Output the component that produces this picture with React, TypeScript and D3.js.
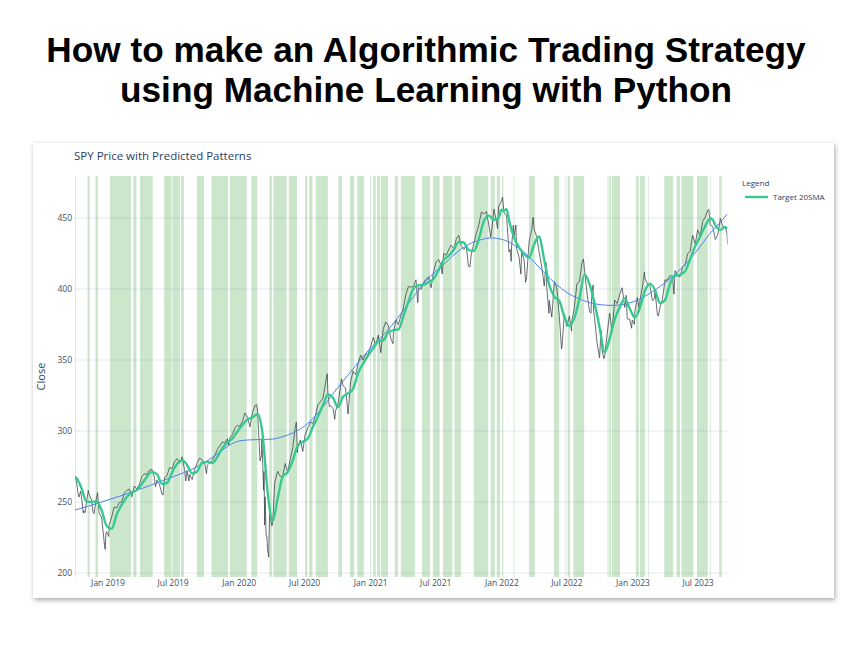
import React from "react";
import * as d3 from "d3";

type P = [string, number];

// ---- SPY adjusted close (weekly + key days) ----
const close2018: P[] = [
  ["2018-10-01", 268.1], ["2018-10-05", 264.5], ["2018-10-10", 255.5], ["2018-10-12", 253.5],
  ["2018-10-17", 257.7], ["2018-10-19", 253.9], ["2018-10-24", 242.2], ["2018-10-26", 243.8],
  ["2018-10-29", 242.5], ["2018-11-02", 249.9], ["2018-11-07", 258.2], ["2018-11-09", 255.3],
  ["2018-11-16", 251.5], ["2018-11-20", 243.1], ["2018-11-23", 241.9], ["2018-11-30", 253.3],
  ["2018-12-03", 256.6], ["2018-12-07", 242.2], ["2018-12-14", 239.4], ["2018-12-21", 222.5],
  ["2018-12-24", 216.6], ["2018-12-26", 227.6], ["2018-12-28", 229.1],
];
const close2019: P[] = [
  ["2019-01-03", 225.7], ["2019-01-04", 233.3], ["2019-01-11", 239.4], ["2019-01-18", 246.4],
  ["2019-01-25", 245.9], ["2019-02-01", 249.6], ["2019-02-08", 250.0], ["2019-02-15", 256.4],
  ["2019-02-22", 258.0], ["2019-03-01", 259.2], ["2019-03-08", 253.7], ["2019-03-15", 261.2],
  ["2019-03-22", 259.3], ["2019-03-29", 262.3], ["2019-04-05", 267.9], ["2019-04-12", 269.9],
  ["2019-04-18", 269.3], ["2019-04-26", 272.4], ["2019-05-03", 273.0], ["2019-05-10", 267.5],
  ["2019-05-13", 260.8], ["2019-05-17", 265.4], ["2019-05-24", 262.5], ["2019-05-31", 255.6],
  ["2019-06-03", 254.9], ["2019-06-07", 267.1], ["2019-06-14", 268.5], ["2019-06-21", 274.3],
  ["2019-06-28", 273.4], ["2019-07-05", 278.5], ["2019-07-12", 280.5], ["2019-07-19", 277.3],
  ["2019-07-26", 281.8], ["2019-08-02", 273.0], ["2019-08-05", 264.8], ["2019-08-09", 272.1],
  ["2019-08-14", 264.9], ["2019-08-16", 269.5], ["2019-08-23", 265.8], ["2019-08-30", 272.9],
  ["2019-09-06", 277.8], ["2019-09-13", 280.9], ["2019-09-20", 279.6], ["2019-09-27", 276.9],
  ["2019-10-02", 270.0], ["2019-10-04", 275.9], ["2019-10-11", 277.7], ["2019-10-18", 279.3],
  ["2019-10-25", 282.7], ["2019-11-01", 286.9], ["2019-11-08", 289.6], ["2019-11-15", 292.2],
  ["2019-11-22", 291.5], ["2019-11-29", 294.6], ["2019-12-03", 290.1], ["2019-12-06", 295.1],
  ["2019-12-13", 297.4], ["2019-12-20", 302.1], ["2019-12-27", 304.1], ["2019-12-31", 303.2],
];
const close2020: P[] = [
  ["2020-01-03", 303.7], ["2020-01-10", 306.8], ["2020-01-17", 312.7], ["2020-01-24", 309.7],
  ["2020-01-31", 303.0], ["2020-02-07", 312.9], ["2020-02-14", 318.0], ["2020-02-19", 318.6],
  ["2020-02-21", 314.1], ["2020-02-25", 294.5], ["2020-02-28", 279.0], ["2020-03-03", 282.8],
  ["2020-03-04", 294.7], ["2020-03-06", 280.2], ["2020-03-09", 258.3], ["2020-03-10", 271.6],
  ["2020-03-12", 233.7], ["2020-03-13", 253.7], ["2020-03-16", 225.9], ["2020-03-18", 226.1],
  ["2020-03-20", 216.8], ["2020-03-23", 211.2], ["2020-03-26", 247.5], ["2020-03-27", 240.1],
  ["2020-04-01", 233.2], ["2020-04-03", 235.2], ["2020-04-09", 263.6], ["2020-04-17", 271.6],
  ["2020-04-24", 268.1], ["2020-05-01", 267.9], ["2020-05-08", 277.1], ["2020-05-15", 271.3],
  ["2020-05-22", 279.9], ["2020-05-29", 288.3], ["2020-06-05", 302.6], ["2020-06-08", 306.2],
  ["2020-06-11", 284.8], ["2020-06-12", 288.2], ["2020-06-19", 293.7], ["2020-06-26", 285.6],
  ["2020-07-02", 297.1], ["2020-07-10", 302.3], ["2020-07-17", 306.2], ["2020-07-24", 305.4],
  ["2020-07-31", 310.7], ["2020-08-07", 318.4], ["2020-08-14", 320.6], ["2020-08-21", 323.1],
  ["2020-08-28", 333.6], ["2020-09-02", 340.4], ["2020-09-04", 326.0], ["2020-09-08", 317.1],
  ["2020-09-11", 317.9], ["2020-09-18", 316.0], ["2020-09-23", 308.3], ["2020-09-25", 314.1],
  ["2020-10-02", 319.0], ["2020-10-09", 331.5], ["2020-10-12", 336.8], ["2020-10-16", 331.9],
  ["2020-10-23", 330.4], ["2020-10-30", 312.0], ["2020-11-06", 334.6], ["2020-11-13", 342.2],
  ["2020-11-20", 339.6], ["2020-11-27", 347.5], ["2020-12-04", 353.4], ["2020-12-11", 350.0],
  ["2020-12-18", 354.3], ["2020-12-24", 354.1], ["2020-12-31", 358.8],
];
const close2021: P[] = [
  ["2021-01-08", 365.9], ["2021-01-15", 360.6], ["2021-01-22", 367.5], ["2021-01-27", 359.3],
  ["2021-01-29", 355.2], ["2021-02-05", 372.1], ["2021-02-12", 376.8], ["2021-02-19", 374.3],
  ["2021-02-26", 365.0], ["2021-03-04", 361.5], ["2021-03-05", 368.2], ["2021-03-12", 378.2],
  ["2021-03-19", 375.0], ["2021-03-26", 381.3], ["2021-04-01", 385.7], ["2021-04-09", 396.2],
  ["2021-04-16", 401.8], ["2021-04-23", 401.3], ["2021-04-30", 401.8], ["2021-05-07", 406.5],
  ["2021-05-12", 390.4], ["2021-05-14", 401.1], ["2021-05-21", 399.5], ["2021-05-28", 404.5],
  ["2021-06-04", 406.9], ["2021-06-11", 408.6], ["2021-06-18", 400.9], ["2021-06-25", 412.2],
  ["2021-07-02", 419.1], ["2021-07-09", 420.8], ["2021-07-16", 416.8], ["2021-07-19", 410.6],
  ["2021-07-23", 425.1], ["2021-07-30", 423.7], ["2021-08-06", 427.6], ["2021-08-13", 430.9],
  ["2021-08-20", 428.4], ["2021-08-27", 435.1], ["2021-09-03", 437.8], ["2021-09-10", 430.4],
  ["2021-09-17", 427.9], ["2021-09-24", 430.3], ["2021-09-30", 416.0], ["2021-10-04", 415.5],
  ["2021-10-08", 424.5], ["2021-10-15", 432.2], ["2021-10-22", 439.3], ["2021-10-29", 445.2],
  ["2021-11-05", 454.2], ["2021-11-12", 453.0], ["2021-11-19", 454.5], ["2021-11-26", 444.9],
  ["2021-12-01", 436.7], ["2021-12-03", 439.5], ["2021-12-10", 456.3], ["2021-12-17", 447.4],
  ["2021-12-20", 442.6], ["2021-12-23", 457.8], ["2021-12-31", 462.0],
];
const close2022: P[] = [
  ["2022-01-03", 464.7], ["2022-01-07", 453.4], ["2022-01-14", 452.1], ["2022-01-21", 426.1],
  ["2022-01-24", 427.8], ["2022-01-27", 419.5], ["2022-01-28", 429.9], ["2022-02-02", 444.9],
  ["2022-02-04", 436.5], ["2022-02-09", 445.1], ["2022-02-11", 428.5], ["2022-02-18", 422.4],
  ["2022-02-23", 410.5], ["2022-02-25", 425.8], ["2022-03-04", 420.4], ["2022-03-08", 404.7],
  ["2022-03-11", 408.6], ["2022-03-18", 433.8], ["2022-03-25", 441.8], ["2022-03-29", 450.4],
  ["2022-04-01", 442.0], ["2022-04-08", 436.8], ["2022-04-14", 427.2], ["2022-04-22", 415.8],
  ["2022-04-29", 402.1], ["2022-05-04", 418.7], ["2022-05-06", 401.4], ["2022-05-12", 382.9],
  ["2022-05-13", 392.0], ["2022-05-20", 380.2], ["2022-05-27", 405.3], ["2022-06-03", 400.6],
  ["2022-06-10", 380.4], ["2022-06-16", 357.8], ["2022-06-17", 358.6], ["2022-06-24", 382.3],
  ["2022-07-01", 373.7], ["2022-07-08", 380.9], ["2022-07-14", 370.4], ["2022-07-15", 377.5],
  ["2022-07-22", 387.2], ["2022-07-29", 403.8], ["2022-08-05", 405.2], ["2022-08-12", 418.6],
  ["2022-08-16", 421.1], ["2022-08-19", 413.7], ["2022-08-26", 397.2], ["2022-09-02", 384.4],
  ["2022-09-06", 383.0], ["2022-09-09", 398.5], ["2022-09-12", 402.8], ["2022-09-13", 385.3],
  ["2022-09-16", 379.5], ["2022-09-23", 362.1], ["2022-09-30", 351.5], ["2022-10-04", 371.1],
  ["2022-10-07", 357.1], ["2022-10-12", 350.9], ["2022-10-14", 352.0], ["2022-10-21", 368.4],
  ["2022-10-28", 382.9], ["2022-11-04", 370.4], ["2022-11-10", 388.5], ["2022-11-11", 392.2],
  ["2022-11-18", 389.8], ["2022-11-25", 396.0], ["2022-12-01", 400.9], ["2022-12-02", 400.5],
  ["2022-12-09", 387.1], ["2022-12-13", 395.6], ["2022-12-16", 379.0], ["2022-12-23", 378.6],
  ["2022-12-28", 372.4], ["2022-12-30", 378.1],
];
const close2023: P[] = [
  ["2023-01-05", 375.1], ["2023-01-06", 383.7], ["2023-01-13", 394.0], ["2023-01-19", 384.3],
  ["2023-01-20", 391.4], ["2023-01-27", 401.1], ["2023-02-02", 412.1], ["2023-02-03", 407.7],
  ["2023-02-10", 403.5], ["2023-02-17", 402.7], ["2023-02-24", 391.9], ["2023-03-02", 393.4],
  ["2023-03-03", 399.7], ["2023-03-10", 381.6], ["2023-03-13", 381.0], ["2023-03-17", 387.1],
  ["2023-03-24", 392.8], ["2023-03-31", 406.4], ["2023-04-06", 406.2], ["2023-04-14", 409.4],
  ["2023-04-21", 409.1], ["2023-04-25", 396.4], ["2023-04-28", 412.9], ["2023-05-05", 409.6],
  ["2023-05-12", 408.5], ["2023-05-19", 415.5], ["2023-05-26", 416.9], ["2023-06-02", 424.7],
  ["2023-06-09", 426.7], ["2023-06-16", 437.9], ["2023-06-23", 431.6], ["2023-06-30", 441.7],
  ["2023-07-07", 437.0], ["2023-07-14", 447.7], ["2023-07-21", 450.6], ["2023-07-28", 455.3],
  ["2023-07-31", 456.1], ["2023-08-04", 445.2], ["2023-08-11", 444.0], ["2023-08-18", 434.9],
  ["2023-08-25", 438.4], ["2023-09-01", 449.6], ["2023-09-08", 443.9], ["2023-09-15", 443.4],
  ["2023-09-20", 438.6], ["2023-09-21", 431.4],
];

// ---- Target 20SMA ----
const sma2018: P[] = [
  ["2018-10-01", 267.5], ["2018-10-05", 266.8], ["2018-10-19", 259.8], ["2018-11-02", 250.3],
  ["2018-11-16", 250.1], ["2018-11-30", 250.5], ["2018-12-14", 244.2], ["2018-12-28", 233.3],
];
const sma2019: P[] = [
  ["2019-01-11", 231.1], ["2019-01-25", 241.3], ["2019-02-08", 248.0], ["2019-02-22", 253.5],
  ["2019-03-08", 256.8], ["2019-03-22", 258.4], ["2019-04-05", 262.7], ["2019-04-18", 267.4],
  ["2019-05-03", 271.2], ["2019-05-17", 269.6], ["2019-05-31", 262.8], ["2019-06-14", 263.4],
  ["2019-06-28", 270.8], ["2019-07-12", 276.7], ["2019-07-26", 279.5], ["2019-08-09", 276.1],
  ["2019-08-23", 270.1], ["2019-09-06", 271.5], ["2019-09-20", 277.8], ["2019-10-04", 278.3],
  ["2019-10-18", 277.5], ["2019-11-01", 281.7], ["2019-11-15", 287.9], ["2019-11-29", 292.0],
  ["2019-12-13", 294.7], ["2019-12-27", 299.7],
];
const sma2020: P[] = [
  ["2020-01-10", 304.2], ["2020-01-24", 308.2], ["2020-02-07", 309.6], ["2020-02-21", 312.0],
  ["2020-03-06", 297.8], ["2020-03-20", 257.4], ["2020-04-03", 236.5], ["2020-04-17", 252.6],
  ["2020-05-01", 267.8], ["2020-05-15", 271.1], ["2020-05-29", 279.2], ["2020-06-12", 289.8],
  ["2020-06-26", 292.5], ["2020-07-10", 294.7], ["2020-07-24", 302.8], ["2020-08-07", 310.2],
  ["2020-08-21", 318.2], ["2020-09-04", 325.8], ["2020-09-18", 323.4], ["2020-10-02", 316.8],
  ["2020-10-16", 324.1], ["2020-10-30", 326.5], ["2020-11-13", 329.8], ["2020-11-27", 341.0],
  ["2020-12-11", 347.6], ["2020-12-24", 353.0],
];
const sma2021: P[] = [
  ["2021-01-08", 358.3], ["2021-01-22", 363.2], ["2021-02-05", 363.9], ["2021-02-19", 369.6],
  ["2021-03-05", 371.1], ["2021-03-19", 371.6], ["2021-04-01", 380.1], ["2021-04-16", 391.3],
  ["2021-04-30", 400.3], ["2021-05-14", 402.7], ["2021-05-28", 402.9], ["2021-06-11", 404.9],
  ["2021-06-25", 407.2], ["2021-07-09", 413.3], ["2021-07-23", 420.5], ["2021-08-06", 423.3],
  ["2021-08-20", 427.7], ["2021-09-03", 433.1], ["2021-09-17", 432.8], ["2021-10-01", 427.4],
  ["2021-10-15", 427.0], ["2021-10-29", 435.3], ["2021-11-12", 447.9], ["2021-11-26", 451.7],
  ["2021-12-10", 448.8], ["2021-12-23", 450.3], ["2021-12-31", 455.9],
];
const sma2022: P[] = [
  ["2022-01-07", 455.2], ["2022-01-14", 456.3], ["2022-01-21", 448.4], ["2022-02-04", 436.2],
  ["2022-02-18", 429.3], ["2022-03-04", 424.3], ["2022-03-18", 422.2], ["2022-04-01", 431.6],
  ["2022-04-14", 437.0], ["2022-04-29", 420.5], ["2022-05-13", 402.8], ["2022-05-27", 394.7],
  ["2022-06-10", 391.6], ["2022-06-24", 380.5], ["2022-07-08", 373.9], ["2022-07-22", 379.8],
  ["2022-08-05", 393.4], ["2022-08-19", 410.3], ["2022-09-02", 403.5], ["2022-09-16", 389.9],
  ["2022-09-30", 372.9], ["2022-10-14", 355.7], ["2022-10-28", 365.1], ["2022-11-11", 378.5],
  ["2022-11-25", 387.1], ["2022-12-09", 393.4], ["2022-12-23", 386.3],
];
const sma2023: P[] = [
  ["2023-01-06", 379.9], ["2023-01-20", 386.8], ["2023-02-03", 398.6], ["2023-02-17", 403.8],
  ["2023-03-03", 399.5], ["2023-03-17", 390.1], ["2023-03-31", 392.0], ["2023-04-14", 403.7],
  ["2023-04-28", 409.4], ["2023-05-12", 410.0], ["2023-05-26", 412.6], ["2023-06-09", 420.9],
  ["2023-06-23", 430.2], ["2023-07-07", 437.1], ["2023-07-21", 444.3], ["2023-07-28", 447.7],
  ["2023-08-04", 449.7], ["2023-08-11", 448.8], ["2023-08-18", 444.9], ["2023-09-01", 441.7],
  ["2023-09-15", 443.8], ["2023-09-21", 442.5],
];

// ---- smooth trend (blue) ----
const trendPoints: P[] = [
  ["2018-10-01", 244.4], ["2018-11-01", 246.6], ["2018-12-01", 249.0], ["2019-01-01", 251.5],
  ["2019-02-01", 254.0], ["2019-03-01", 256.5], ["2019-04-01", 259.2], ["2019-05-01", 262.0],
  ["2019-06-01", 265.0], ["2019-07-01", 267.8], ["2019-08-01", 270.8], ["2019-09-01", 274.2],
  ["2019-10-01", 278.5], ["2019-11-01", 284.0], ["2019-12-01", 289.5], ["2020-01-01", 293.0],
  ["2020-02-01", 293.8], ["2020-03-01", 294.0], ["2020-04-01", 294.3], ["2020-05-01", 296.0],
  ["2020-06-01", 299.0], ["2020-07-01", 303.5], ["2020-08-01", 311.0], ["2020-09-01", 320.5],
  ["2020-10-01", 330.5], ["2020-11-01", 340.0], ["2020-12-01", 349.5], ["2021-01-01", 358.5],
  ["2021-02-01", 366.5], ["2021-03-01", 374.5], ["2021-04-01", 384.5], ["2021-05-01", 395.0],
  ["2021-06-01", 405.0], ["2021-07-01", 412.5], ["2021-08-01", 419.5], ["2021-09-01", 426.5],
  ["2021-10-01", 431.5], ["2021-11-01", 434.5], ["2021-12-01", 436.0], ["2022-01-01", 435.0],
  ["2022-02-01", 431.5], ["2022-03-01", 426.5], ["2022-04-01", 419.0], ["2022-05-01", 411.0],
  ["2022-06-01", 403.5], ["2022-07-01", 397.5], ["2022-08-01", 393.5], ["2022-09-01", 390.5],
  ["2022-10-01", 389.0], ["2022-11-01", 388.5], ["2022-12-01", 389.0], ["2023-01-01", 391.0],
  ["2023-02-01", 394.5], ["2023-03-01", 399.0], ["2023-04-01", 404.5], ["2023-05-01", 411.0],
  ["2023-06-01", 419.0], ["2023-07-01", 428.0], ["2023-08-01", 438.5], ["2023-09-01", 447.0],
  ["2023-09-21", 453.0],
];

// ---- predicted pattern periods (shaded) ----
const bandRanges: [string, string][] = [
  ["2018-10-01", "2018-10-03"], ["2018-11-05", "2018-11-11"], ["2018-11-27", "2018-12-04"],
  ["2019-01-06", "2019-03-06"], ["2019-03-12", "2019-03-21"], ["2019-03-31", "2019-05-05"],
  ["2019-06-06", "2019-06-27"], ["2019-06-29", "2019-07-20"], ["2019-07-23", "2019-07-31"],
  ["2019-09-05", "2019-09-25"], ["2019-10-16", "2019-12-01"], ["2019-12-06", "2020-01-22"],
  ["2020-02-04", "2020-02-20"], ["2020-03-25", "2020-04-01"], ["2020-04-05", "2020-05-12"],
  ["2020-05-18", "2020-06-10"], ["2020-07-02", "2020-07-08"], ["2020-07-14", "2020-07-23"],
  ["2020-08-01", "2020-09-04"], ["2020-10-03", "2020-10-13"], ["2020-11-04", "2020-11-16"],
  ["2020-11-25", "2020-12-13"], ["2020-12-31", "2021-01-02"], ["2021-01-08", "2021-01-15"],
  ["2021-01-19", "2021-01-27"], ["2021-01-29", "2021-02-18"], ["2021-03-09", "2021-03-18"],
  ["2021-03-26", "2021-05-04"], ["2021-05-24", "2021-06-15"], ["2021-06-23", "2021-07-12"],
  ["2021-07-21", "2021-08-16"], ["2021-08-22", "2021-09-09"], ["2021-10-15", "2021-11-24"],
  ["2021-12-01", "2021-12-12"], ["2021-12-18", "2021-12-27"], ["2022-01-01", "2022-01-05"],
  ["2022-02-03", "2022-02-05"], ["2022-03-18", "2022-04-03"], ["2022-05-26", "2022-06-09"],
  ["2022-06-27", "2022-06-29"], ["2022-07-03", "2022-07-10"], ["2022-07-19", "2022-08-18"],
  ["2022-10-22", "2022-10-25"], ["2022-10-27", "2022-11-01"], ["2022-11-03", "2022-11-26"],
  ["2023-01-09", "2023-01-17"], ["2023-01-20", "2023-02-03"], ["2023-02-12", "2023-02-14"],
  ["2023-03-29", "2023-04-23"], ["2023-05-02", "2023-05-12"], ["2023-05-16", "2023-06-18"],
  ["2023-06-28", "2023-07-28"], ["2023-08-03", "2023-08-05"], ["2023-08-29", "2023-09-05"],
];

const yTicks = [200, 250, 300, 350, 400, 450];
const xTickDates = ["2019-01-01", "2019-07-01", "2020-01-01", "2020-07-01", "2021-01-01",
  "2021-07-01", "2022-01-01", "2022-07-01", "2023-01-01", "2023-07-01"];
const xDomain: [string, string] = ["2018-10-01", "2023-09-21"];
const yDomain: [number, number] = [197.2, 479.6];

const titleLines = ["How to make an Algorithmic Trading Strategy", "using Machine Learning with Python"];
const chartTitle = "SPY Price with Predicted Patterns";
const yAxisTitle = "Close";
const legendTitle = "Legend";
const legendLabel = "Target 20SMA";

const plot = { left: 75, right: 727.5, top: 176, bottom: 577 };
const card = { x: 33, y: 143, w: 801, h: 455 };
const FONT = "'Open Sans', 'Noto Sans', sans-serif";
const TICK_COLOR = "#3d4f6b";

export default function App() {
  const parse = d3.utcParse("%Y-%m-%d");
  const toPts = (arr: P[]) => arr.map(([d, v]) => ({ date: parse(d) as Date, value: v }));
  const closeData = toPts([...close2018, ...close2019, ...close2020, ...close2021, ...close2022, ...close2023]);
  const smaData = toPts([...sma2018, ...sma2019, ...sma2020, ...sma2021, ...sma2022, ...sma2023]);
  const trendData = toPts(trendPoints);

  const x = d3.scaleUtc().domain(xDomain.map((d) => parse(d) as Date)).range([plot.left, plot.right]);
  const y = d3.scaleLinear().domain(yDomain).range([plot.bottom, plot.top]);

  const lineLinear = d3.line<{ date: Date; value: number }>().x((d) => x(d.date)).y((d) => y(d.value));
  const lineSmooth = d3
    .line<{ date: Date; value: number }>()
    .x((d) => x(d.date))
    .y((d) => y(d.value))
    .curve(d3.curveMonotoneX);
  const fmt = d3.utcFormat("%b %Y");

  return (
    <svg width={867} height={647} style={{ position: "absolute", left: 0, top: 0, background: "#fff" }}>
      <defs>
        <filter id="shadow" x="-5%" y="-5%" width="110%" height="115%">
          <feDropShadow dx="1" dy="2" stdDeviation="2.5" floodColor="#000" floodOpacity="0.35" />
        </filter>
        <clipPath id="plotclip">
          <rect x={plot.left} y={plot.top} width={plot.right - plot.left} height={plot.bottom - plot.top} />
        </clipPath>
      </defs>
      <rect width={867} height={647} fill="#fff" />
      {titleLines.map((t, i) => (
        <text
          key={i}
          x={426}
          y={62 + i * 40}
          textAnchor="middle"
          fontFamily="'Liberation Sans', Arial, sans-serif"
          fontWeight="bold"
          fontSize={35.2}
          fill="#000"
        >
          {t}
        </text>
      ))}
      <rect x={card.x} y={card.y} width={card.w} height={card.h} fill="#fff" filter="url(#shadow)" />

      <text x={74} y={160} fontFamily={FONT} fontSize={11.5} fill="#2a3f5f">
        {chartTitle}
      </text>

      {/* gridlines */}
      {yTicks.map((t) => (
        <line key={t} x1={plot.left} x2={plot.right} y1={y(t)} y2={y(t)} stroke="#e4e9f2" strokeWidth={1} />
      ))}

      {/* bands */}
      <g clipPath="url(#plotclip)">
        {bandRanges.map(([a, b], i) => {
          const x0 = x(parse(a) as Date);
          const x1 = x(parse(b) as Date);
          return (
            <rect key={i} x={x0} y={plot.top} width={Math.max(0.5, x1 - x0)} height={plot.bottom - plot.top}
              fill="#008000" fillOpacity={0.2} />
          );
        })}
      </g>

      <g clipPath="url(#plotclip)">
        <path d={lineLinear(closeData) || ""} fill="none" stroke="#3a3f4a" strokeOpacity={0.85} strokeWidth={0.9} />
        <path d={lineSmooth(trendData) || ""} fill="none" stroke="#4f7ff0" strokeWidth={1} />
        <path d={lineSmooth(smaData) || ""} fill="none" stroke="#36c98e" strokeWidth={2.4} />
      </g>

      {/* y ticks */}
      {yTicks.map((t) => (
        <text key={t} x={72} y={y(t) + 3} textAnchor="end" fontFamily={FONT} fontSize={8.5} fill={TICK_COLOR}>
          {t}
        </text>
      ))}
      {/* x ticks */}
      {xTickDates.map((d) => {
        const dt = parse(d) as Date;
        return (
          <text key={d} x={x(dt)} y={586} textAnchor="middle" fontFamily={FONT} fontSize={8.5} fill={TICK_COLOR}>
            {fmt(dt)}
          </text>
        );
      })}
      <text
        transform={`translate(45, ${(plot.top + plot.bottom) / 2}) rotate(-90)`}
        textAnchor="middle"
        fontFamily={FONT}
        fontSize={11}
        fill="#2a3f5f"
      >
        {yAxisTitle}
      </text>

      {/* legend */}
      <text x={742} y={186} fontFamily={FONT} fontSize={8} fill="#2a3f5f">
        {legendTitle}
      </text>
      <line x1={745} x2={768} y1={197} y2={197} stroke="#36c98e" strokeWidth={2.4} />
      <text x={773} y={200} fontFamily={FONT} fontSize={8} fill="#2a3f5f">
        {legendLabel}
      </text>
    </svg>
  );
}
